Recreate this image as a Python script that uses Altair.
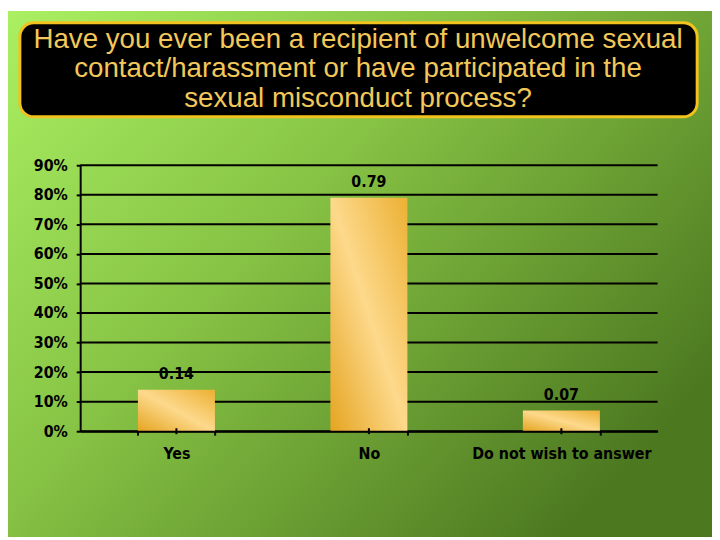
import altair as alt
import pandas as pd

categories = ["Yes", "No", "Do not wish to answer"]
values = [0.14, 0.79, 0.07]
value_labels = ["0.14", "0.79", "0.07"]
y_ticks = [0, 0.1, 0.2, 0.3, 0.4, 0.5, 0.6, 0.7, 0.8, 0.9]
title_lines = [
    "Have you ever been a recipient of unwelcome sexual",
    "contact/harassment or have participated in the",
    "sexual misconduct process?",
]

df = pd.DataFrame({"cat": categories, "val": values, "lab": value_labels})
gdf = pd.DataFrame({"g": y_ticks})
one = pd.DataFrame({"a": [0]})

W, H = 584, 269
PL, PT, PR, PB = 73, 156, 55, 107
FONT = "DejaVu Sans Condensed"

xaxis = alt.Axis(labelAngle=0, labelFont=FONT, labelFontWeight="bold",
                 labelFontSize=16, labelColor="black", labelPadding=11, labelLimit=300,
                 domainColor="black", domainWidth=2, tickColor="black",
                 tickWidth=2, tickSize=4, tickBand="extent", grid=False,
                 labelOverlap=False, zindex=1)
yaxis = alt.Axis(values=y_ticks, tickCount=10, format=".0%", labelFont=FONT,
                 labelFontWeight="bold", labelFontSize=16, labelColor="black",
                 labelPadding=9, domainColor="black", domainWidth=2,
                 tickColor="black", tickWidth=2, tickSize=4,
                 labelOverlap=False, grid=False, zindex=1)
yscale = alt.Scale(domain=[0, 0.9], nice=False)

xenc = alt.X("cat:N", sort=categories, title=None,
             scale=alt.Scale(paddingInner=0.6, paddingOuter=0.3), axis=xaxis)

bg = alt.Chart(one).mark_rect(
    color=alt.LinearGradient(gradient="linear", x1=0, y1=0, x2=1, y2=0.7, stops=[
        alt.GradientStop(offset=0, color="#aaf062"),
        alt.GradientStop(offset=0.45, color="#86c244"),
        alt.GradientStop(offset=1, color="#4c7820"),
    ])
).encode(x=alt.value(-PL), x2=alt.value(W + PR), y=alt.value(-PT), y2=alt.value(H + PB))

box = alt.Chart(one).mark_rect(
    color="black", stroke="#f2c21e", strokeWidth=3, cornerRadius=14
).encode(x=alt.value(-61), x2=alt.value(624), y=alt.value(-144), y2=alt.value(-49))

title_layers = []
for i, line in enumerate(title_lines):
    title_layers.append(
        alt.Chart(pd.DataFrame({"line": [line]})).mark_text(
            font="Liberation Sans", fontSize=28, color="#f2c85a",
            align="center", baseline="middle"
        ).encode(x=alt.value(281), y=alt.value(-127 + i * 30), text="line:N")
    )

grid = alt.Chart(gdf).mark_rule(color="black", strokeWidth=2).encode(
    y=alt.Y("g:Q", title=None, scale=yscale, axis=yaxis), x=alt.value(0), x2=alt.value(W))

bars = alt.Chart(df).mark_bar(
    color=alt.LinearGradient(gradient="linear", x1=0, y1=1, x2=1, y2=0, stops=[
        alt.GradientStop(offset=0, color="#e5a420"),
        alt.GradientStop(offset=0.5, color="#fdd98c"),
        alt.GradientStop(offset=1, color="#ecb033"),
    ])
).encode(x=xenc, y=alt.Y("val:Q", title=None, scale=yscale, axis=yaxis))

labels = alt.Chart(df).mark_text(
    font=FONT, fontWeight="bold", fontSize=16, color="black", dy=-16
).encode(x=alt.X("cat:N", sort=categories), y="val:Q", text="lab:N")

ticks = alt.Chart(df).mark_rule(color="black", strokeWidth=2).encode(
    x=alt.X("cat:N", sort=categories), y=alt.value(H - 3), y2=alt.value(H + 3))

chart = alt.layer(bg, box, *title_layers, grid, bars, labels, ticks).resolve_scale(y="shared").properties(
    width=W, height=H,
    autosize=alt.AutoSizeParams(type="none"),
    padding={"left": PL, "top": PT, "right": PR, "bottom": PB},
).configure_view(stroke=None)

chart.save("out.html", embed_options={"renderer": "svg", "actions": False})
